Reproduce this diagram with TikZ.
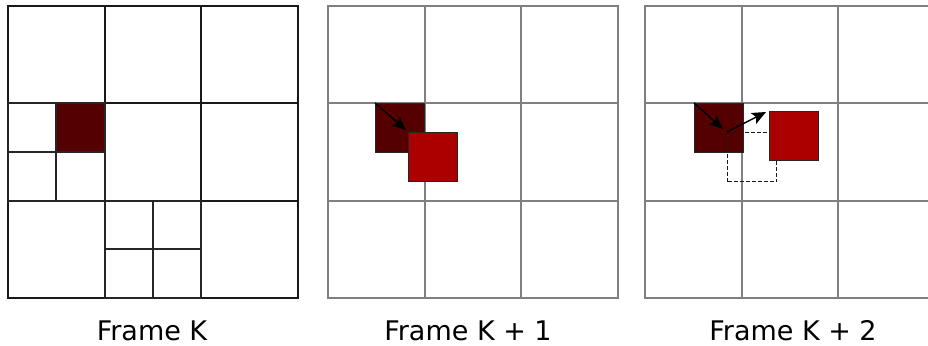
\documentclass[tikz,border=0pt]{standalone}
\usepackage{fontspec}
\setmainfont{DejaVu Sans}
\usetikzlibrary{arrows.meta}
\definecolor{darkred}{HTML}{550000}
\definecolor{brightred}{HTML}{AA0000}
\begin{document}
\begin{tikzpicture}[x=1pt,y=-1pt,
  blackgrid/.style={draw=black!90,line width=1.1pt},
  subgrid/.style={draw=black!85,line width=1.6pt},
  graygrid/.style={draw=black!50,line width=1.1pt},
  sq/.style={draw=black!85,line width=1.1pt,minimum width=49pt,minimum height=49pt,inner sep=0pt,anchor=north west},
  dashsq/.style={draw=black!90,dash pattern=on 4pt off 2pt,line width=1.3pt,minimum width=49pt,minimum height=49pt,inner sep=0pt,anchor=north west},
  mv/.style={-{Stealth[length=14pt,width=12pt,inset=3pt]},line width=1.4pt},
  lbl/.style={font=\fontsize{27}{30}\selectfont,anchor=base}]
\useasboundingbox (0,0) rectangle (928,345);
% Frame K
\node[fill=darkred,minimum width=49pt,minimum height=49pt,inner sep=0pt,anchor=north west] (dk) at (56,103) {};
\draw[blackgrid] (8,6) rectangle (298,298);
\draw[blackgrid] (105,6) -- (105,298) (201,6) -- (201,298) (8,103) -- (298,103) (8,201) -- (298,201);
\draw[subgrid] (8,103) rectangle (105,201) (56,103) -- (56,201) (8,152) -- (105,152);
\draw[subgrid] (105,201) rectangle (201,298) (153,201) -- (153,298) (105,249) -- (201,249);
% Frame K+1
\draw[graygrid] (328,6) rectangle (618,298);
\draw[graygrid] (425,6) -- (425,298) (521,6) -- (521,298) (328,103) -- (618,103) (328,201) -- (618,201);
\node[sq,fill=darkred] (a1) at (375,103) {};
\node[sq,fill=brightred] (b1) at (408,132) {};
\coordinate (a1t) at (406,130);
\draw[mv] (a1.north west) -- (a1t);
% Frame K+2
\draw[graygrid] (645,6) rectangle (935,298);
\draw[graygrid] (742,6) -- (742,298) (838,6) -- (838,298) (645,103) -- (935,103) (645,201) -- (935,201);
\node[sq,fill=darkred] (a2) at (694,103) {};
\node[dashsq] (d2) at (727,132) {};
\node[sq,fill=brightred] (b2) at (769,111) {};
\coordinate (a2t) at (723,129);
\coordinate (b2t) at (766,112);
\draw[mv] (a2.north west) -- (a2t);
\draw[mv] (d2.north west) -- (b2t);
% labels
\node[lbl] (l1) at (152,340) {Frame K};
\node[lbl] (l2) at (468,340) {Frame K + 1};
\node[lbl] (l3) at (793,340) {Frame K + 2};
\end{tikzpicture}
\end{document}
